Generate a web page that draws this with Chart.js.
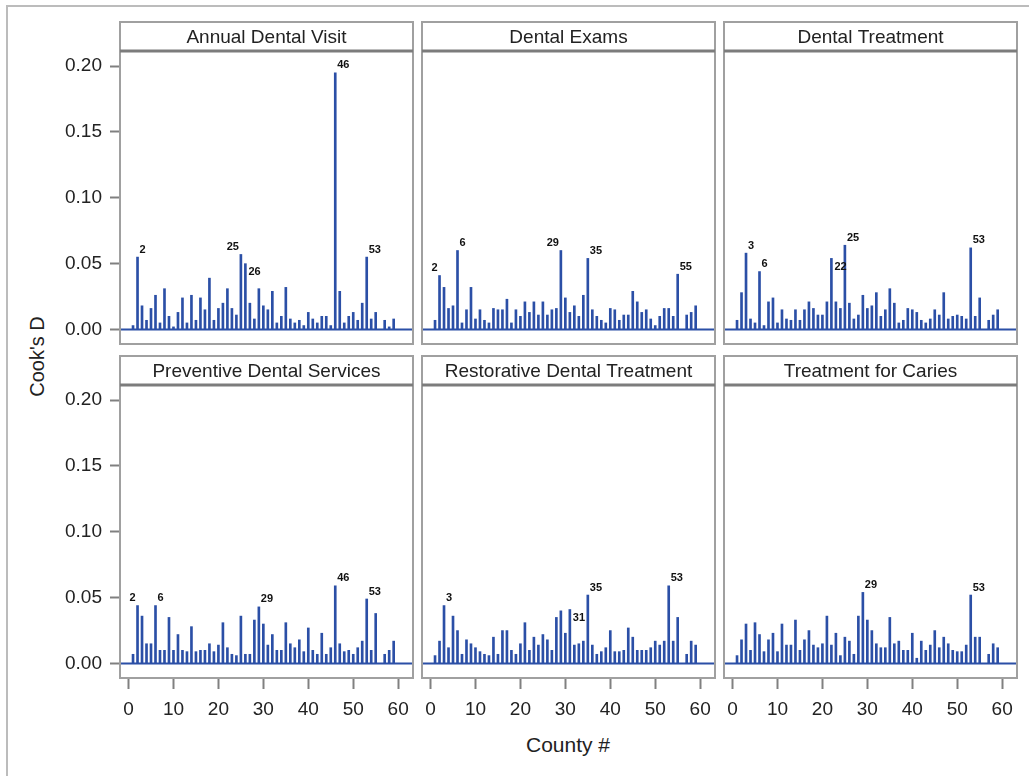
<!DOCTYPE html>
<html>
<head>
<meta charset="utf-8">
<script src="https://cdn.jsdelivr.net/npm/chart.js@4.4.0/dist/chart.umd.min.js"></script>
<style>
  body { margin: 0; background: #fff; width: 1029px; height: 776px; overflow: hidden; position: relative;
         font-family: 'Liberation Sans', Arial, sans-serif; color: #222; }
  #frame { position: absolute; left: 6px; top: 5px; width: 1100px; height: 900px;
           border-left: 2px solid #bcbcbc; border-top: 2px solid #bcbcbc; }
  canvas { position: absolute; }
  #ytitle { position: absolute; left: -63px; top: 345px; width: 200px; text-align: center;
            font-size: 20px; transform: rotate(-90deg); }
  #xtitle { position: absolute; left: 468px; top: 733px; width: 200px; text-align: center; font-size: 21px; }
</style>
</head>
<body>
<div id="frame"></div>
<div id="ytitle">Cook's D</div>
<div id="xtitle">County #</div>
<script>
// County numbers on the x axis (56 is missing)
const counties = [1, 2, 3, 4, 5, 6, 7, 8, 9, 10, 11, 12, 13, 14, 15, 16, 17, 18, 19, 20,
  21, 22, 23, 24, 25, 26, 27, 28, 29, 30, 31, 32, 33, 34, 35, 36, 37, 38, 39, 40,
  41, 42, 43, 44, 45, 46, 47, 48, 49, 50, 51, 52, 53, 54, 55, 57, 58, 59];

// Cook's D per county, one array per outcome
const annualVisit = [0.003, 0.055, 0.018, 0.007, 0.016, 0.026, 0.005, 0.031, 0.010, 0.002,
  0.013, 0.024, 0.005, 0.026, 0.007, 0.024, 0.015, 0.039, 0.007, 0.016,
  0.020, 0.031, 0.016, 0.011, 0.057, 0.050, 0.020, 0.008, 0.031, 0.018,
  0.015, 0.029, 0.005, 0.010, 0.032, 0.008, 0.005, 0.007, 0.003, 0.013,
  0.008, 0.005, 0.010, 0.010, 0.003, 0.195, 0.029, 0.005, 0.010, 0.013,
  0.007, 0.020, 0.055, 0.008, 0.013, 0.007, 0.002, 0.008];
const dentalExams = [0.007, 0.041, 0.032, 0.016, 0.018, 0.060, 0.005, 0.015, 0.032, 0.008,
  0.015, 0.007, 0.005, 0.016, 0.015, 0.015, 0.023, 0.005, 0.015, 0.010,
  0.021, 0.013, 0.021, 0.011, 0.021, 0.011, 0.015, 0.016, 0.060, 0.024,
  0.013, 0.018, 0.010, 0.026, 0.054, 0.015, 0.010, 0.007, 0.005, 0.016,
  0.015, 0.007, 0.011, 0.011, 0.029, 0.021, 0.013, 0.015, 0.008, 0.003,
  0.010, 0.016, 0.016, 0.010, 0.042, 0.011, 0.013, 0.018];
const dentalTreatment = [0.007, 0.028, 0.058, 0.008, 0.005, 0.044, 0.003, 0.021, 0.024, 0.005,
  0.015, 0.008, 0.007, 0.015, 0.007, 0.015, 0.021, 0.016, 0.011, 0.011,
  0.021, 0.054, 0.021, 0.016, 0.064, 0.020, 0.008, 0.011, 0.026, 0.016,
  0.018, 0.028, 0.010, 0.015, 0.031, 0.020, 0.005, 0.007, 0.016, 0.015,
  0.013, 0.007, 0.005, 0.008, 0.015, 0.011, 0.028, 0.008, 0.010, 0.011,
  0.010, 0.008, 0.062, 0.010, 0.024, 0.007, 0.011, 0.015];
const preventive = [0.007, 0.044, 0.036, 0.015, 0.015, 0.044, 0.010, 0.010, 0.035, 0.010,
  0.022, 0.010, 0.009, 0.028, 0.009, 0.010, 0.010, 0.015, 0.009, 0.014,
  0.031, 0.012, 0.007, 0.006, 0.036, 0.007, 0.007, 0.033, 0.043, 0.030,
  0.014, 0.022, 0.010, 0.010, 0.031, 0.015, 0.012, 0.018, 0.009, 0.027,
  0.010, 0.007, 0.023, 0.007, 0.012, 0.059, 0.015, 0.009, 0.010, 0.007,
  0.012, 0.017, 0.049, 0.010, 0.038, 0.007, 0.010, 0.017];
const restorative = [0.006, 0.017, 0.044, 0.012, 0.036, 0.025, 0.007, 0.018, 0.015, 0.012,
  0.009, 0.007, 0.006, 0.020, 0.007, 0.025, 0.025, 0.010, 0.007, 0.015,
  0.031, 0.010, 0.020, 0.014, 0.022, 0.018, 0.010, 0.035, 0.040, 0.023,
  0.041, 0.014, 0.015, 0.017, 0.052, 0.014, 0.007, 0.009, 0.012, 0.025,
  0.009, 0.009, 0.010, 0.027, 0.020, 0.010, 0.010, 0.010, 0.012, 0.017,
  0.014, 0.017, 0.059, 0.017, 0.035, 0.007, 0.017, 0.014];
const caries = [0.006, 0.018, 0.030, 0.010, 0.031, 0.022, 0.009, 0.018, 0.023, 0.009,
  0.030, 0.014, 0.014, 0.033, 0.010, 0.018, 0.025, 0.014, 0.012, 0.015,
  0.036, 0.014, 0.023, 0.006, 0.020, 0.017, 0.007, 0.036, 0.054, 0.033,
  0.025, 0.015, 0.012, 0.012, 0.035, 0.015, 0.017, 0.010, 0.010, 0.023,
  0.004, 0.017, 0.010, 0.014, 0.025, 0.012, 0.020, 0.015, 0.010, 0.009,
  0.009, 0.014, 0.052, 0.020, 0.020, 0.007, 0.015, 0.012];

const titles = ["Annual Dental Visit", "Dental Exams", "Dental Treatment",
  "Preventive Dental Services", "Restorative Dental Treatment", "Treatment for Caries"];
const series = [annualVisit, dentalExams, dentalTreatment, preventive, restorative, caries];

// labelled counties per panel, with where the label sits
const marks = [
  [[2, "ne"], [25, "nw"], [26, "e"], [46, "ne"], [53, "ne"]],
  [[2, "nw"], [6, "ne"], [29, "nw"], [35, "ne"], [55, "ne"]],
  [[3, "ne"], [6, "ne"], [22, "e"], [25, "ne"], [53, "ne"]],
  [[2, "nw"], [6, "ne"], [29, "ne"], [46, "ne"], [53, "ne"]],
  [[3, "ne"], [31, "e"], [35, "ne"], [53, "ne"]],
  [[29, "ne"], [53, "ne"]]
];

const xTicks = [0, 10, 20, 30, 40, 50, 60];
const yTicks = [0, 0.05, 0.10, 0.15, 0.20];

// layout of the 2x3 grid
const FONT = "'Liberation Sans', Arial, sans-serif";
const NEEDLE = "#2b4fa6";
const COL_X = [120, 422, 724];
const ROW_Y = [51, 385];
const PLOT_W = 293, PLOT_H = 293, HEAD = 29, PAD_TOP = 31;
const Y_AXIS_W = 100, X_AXIS_H = 50;

const panelDecor = {
  id: "panelDecor",
  afterDatasetsDraw(chart, args, opts) {
    const ctx = chart.ctx;
    const a = chart.chartArea;
    const y0 = chart.scales.y.getPixelForValue(0);
    ctx.save();

    // zero line
    ctx.strokeStyle = NEEDLE;
    ctx.lineWidth = 2;
    ctx.beginPath();
    ctx.moveTo(a.left, y0);
    ctx.lineTo(a.right, y0);
    ctx.stroke();

    // point labels
    const meta = chart.getDatasetMeta(0);
    ctx.fillStyle = "#111";
    ctx.font = "bold 11px " + FONT;
    opts.marks.forEach(([county, pos]) => {
      const bar = meta.data[counties.indexOf(county)];
      if (pos === "ne") {
        ctx.textAlign = "left"; ctx.textBaseline = "bottom";
        ctx.fillText(county, bar.x + 2, bar.y - 2);
      } else if (pos === "nw") {
        ctx.textAlign = "right"; ctx.textBaseline = "bottom";
        ctx.fillText(county, bar.x - 2, bar.y - 2);
      } else {
        ctx.textAlign = "left"; ctx.textBaseline = "top";
        ctx.fillText(county, bar.x + 3, bar.y + 3);
      }
    });

    // panel box and header strip
    ctx.strokeStyle = "#a0a0a0";
    ctx.lineWidth = 2;
    ctx.strokeRect(a.left, a.top - HEAD, a.right - a.left, a.bottom - a.top + HEAD);
    ctx.strokeStyle = "#7c7c7c";
    ctx.lineWidth = 3;
    ctx.beginPath();
    ctx.moveTo(a.left, a.top);
    ctx.lineTo(a.right, a.top);
    ctx.stroke();

    ctx.fillStyle = "#222";
    ctx.font = "19px " + FONT;
    ctx.textAlign = "center";
    ctx.textBaseline = "middle";
    ctx.fillText(opts.title, (a.left + a.right) / 2, a.top - HEAD / 2 + 1);
    ctx.restore();
  }
};

series.forEach((values, i) => {
  const col = i % 3, row = Math.floor(i / 3);
  const showY = col === 0, showX = row === 1;
  const leftW = showY ? Y_AXIS_W : 2;
  const bottomH = showX ? X_AXIS_H : 2;

  const canvas = document.createElement("canvas");
  canvas.width = leftW + PLOT_W + 2;
  canvas.height = PAD_TOP + PLOT_H + bottomH;
  canvas.style.left = (COL_X[col] - leftW) + "px";
  canvas.style.top = (ROW_Y[row] - PAD_TOP) + "px";
  document.body.appendChild(canvas);

  new Chart(canvas, {
    type: "bar",
    data: {
      datasets: [{
        data: counties.map((c, k) => ({ x: c, y: values[k] })),
        backgroundColor: NEEDLE,
        borderWidth: 0,
        barThickness: 2
      }]
    },
    options: {
      responsive: false,
      animation: false,
      events: [],
      layout: { padding: { top: PAD_TOP, right: 2, left: showY ? 0 : 2, bottom: showX ? 0 : 2 } },
      plugins: {
        legend: { display: false },
        tooltip: { enabled: false },
        panelDecor: { title: titles[i], marks: marks[i] }
      },
      scales: {
        x: {
          type: "linear",
          display: showX,
          min: -1.9,
          max: 63.3,
          offset: false,
          afterBuildTicks: s => { s.ticks = xTicks.map(v => ({ value: v })); },
          afterFit: s => {
            s.height = showX ? X_AXIS_H : 0;
            s.paddingLeft = 0; s.paddingRight = 0;
          },
          grid: { offset: false, drawOnChartArea: false, drawTicks: true, tickLength: 11,
                  tickColor: "#808080", tickWidth: 2 },
          border: { display: false },
          ticks: { color: "#222", padding: 9, font: { size: 19, family: FONT } }
        },
        y: {
          display: showY,
          min: -0.011,
          max: 0.2115,
          afterBuildTicks: s => { s.ticks = yTicks.map(v => ({ value: v })); },
          afterFit: s => {
            s.width = showY ? Y_AXIS_W : 0;
            s.paddingTop = 0; s.paddingBottom = 0;
          },
          grid: { drawOnChartArea: false, drawTicks: true, tickLength: 10,
                  tickColor: "#808080", tickWidth: 2 },
          border: { display: false },
          ticks: { color: "#222", padding: 8, font: { size: 19, family: FONT },
                   callback: v => v.toFixed(2) }
        }
      }
    },
    plugins: [panelDecor]
  });
});
</script>
</body>
</html>
